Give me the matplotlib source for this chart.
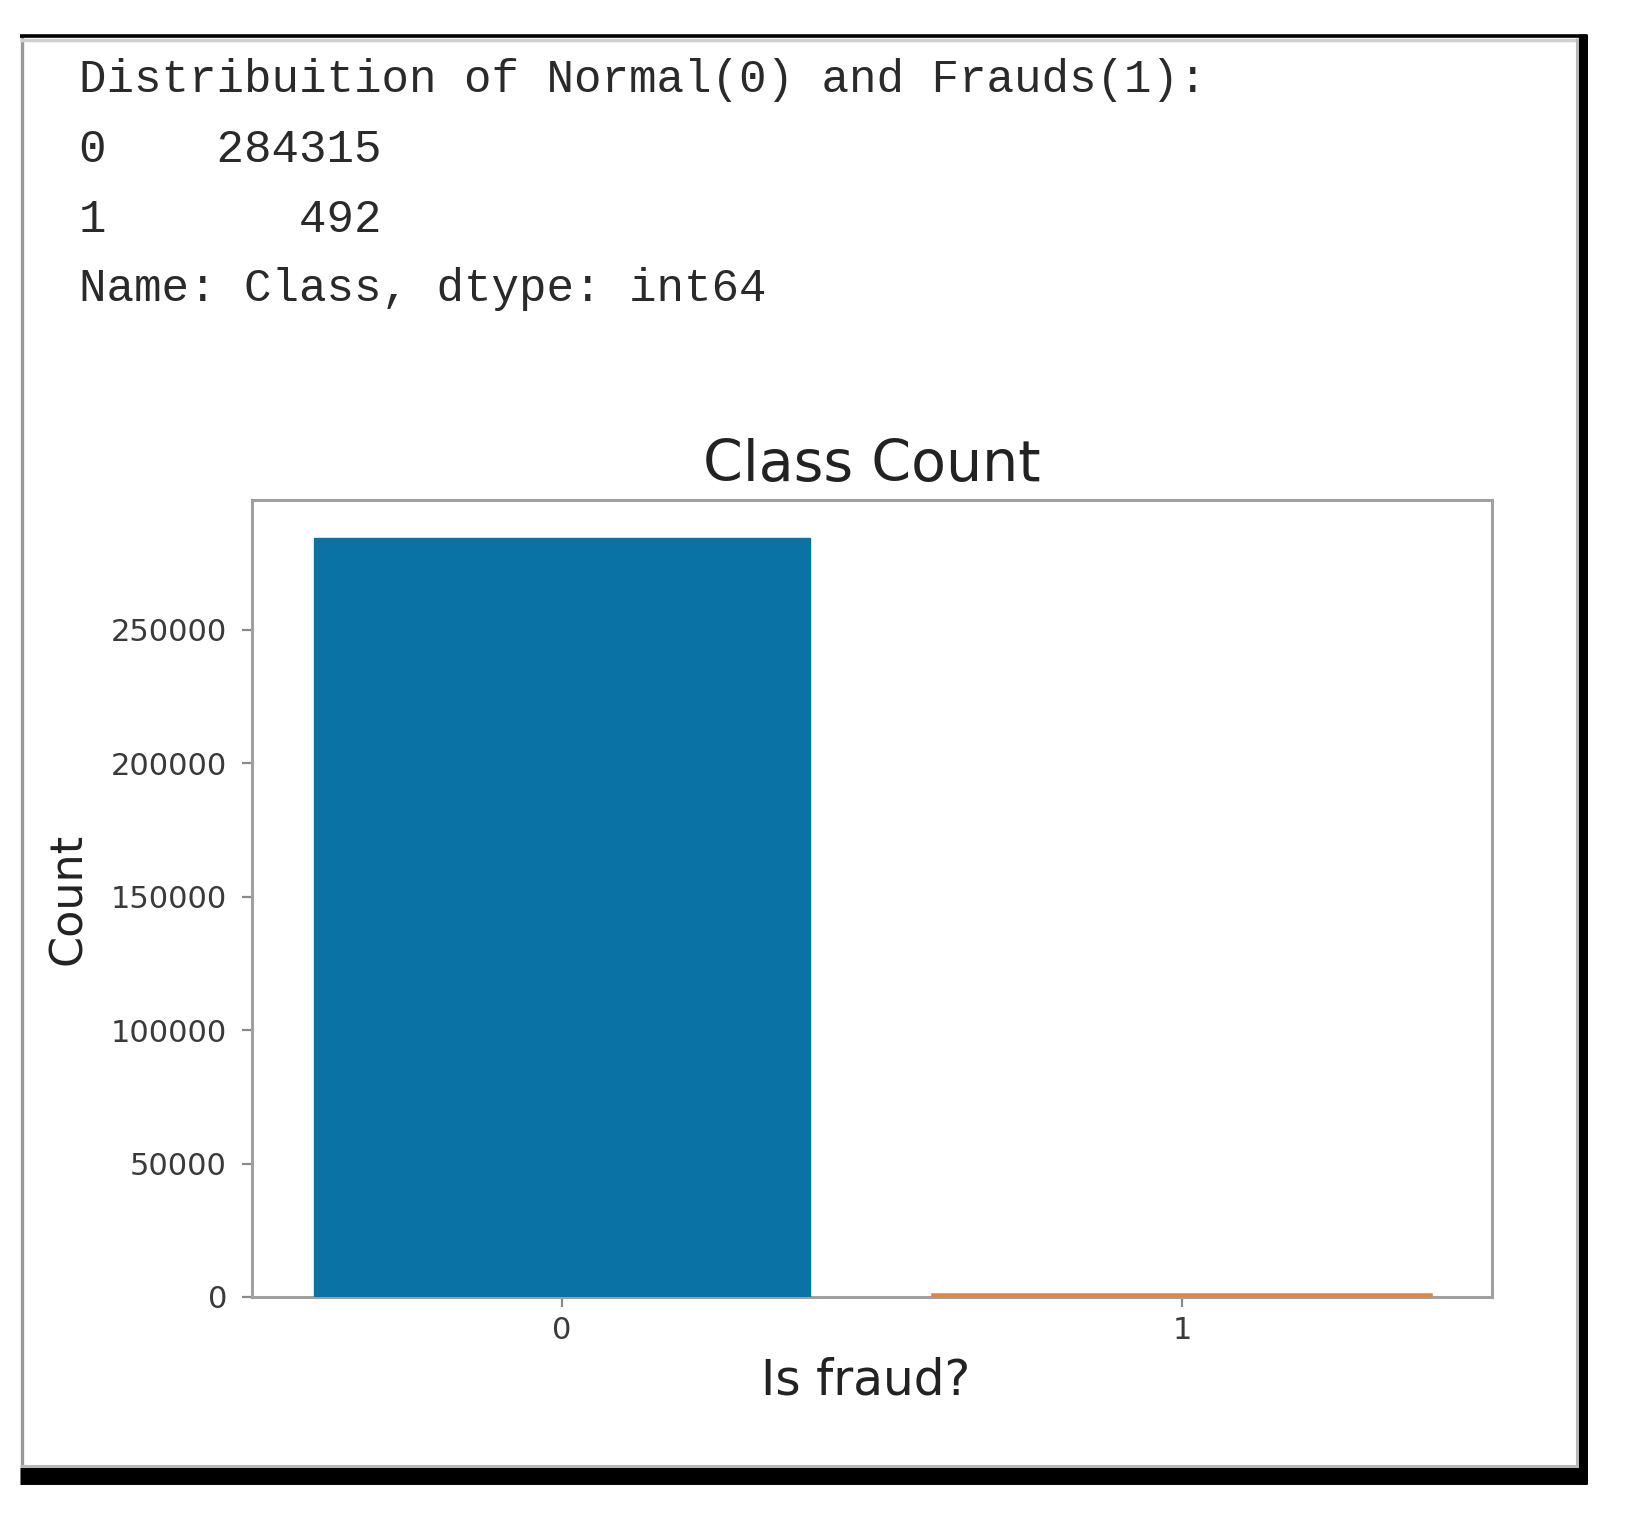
import matplotlib
matplotlib.use("Agg")
import matplotlib.pyplot as plt
from matplotlib.lines import Line2D

# value counts of the Class column
classes = ["0", "1"]
counts = [284315, 492]
bar_colors = ["#0a72a4", "#d8884c"]

W, H = 1625, 1529

def fx(px):
    return px / W

def fy(py):
    return 1 - py / H

fig = plt.figure(figsize=(W / 100, H / 100), dpi=100)
fig.patch.set_facecolor("white")

# printed output above the plot
mono = dict(family="Liberation Mono", fontsize=33, color="#2a2a2a", va="baseline")
fig.text(fx(79), fy(92), "Distribuition of Normal(0) and Frauds(1):", **mono)
fig.text(fx(79), fy(162), "%s    %d" % (classes[0], counts[0]), **mono)
fig.text(fx(79), fy(232), "%s    %6d" % (classes[1], counts[1]), **mono)
fig.text(fx(79), fy(301), "Name: Class, dtype: int64", **mono)

# the plot
ax = fig.add_axes([fx(252), fy(1297), (1492 - 252) / W, (1297 - 500) / H])
ax.bar(classes[0], counts[0], width=0.8, color=bar_colors[0], edgecolor=bar_colors[0],
       linewidth=1, zorder=3)
ax.bar(classes[1], counts[1], width=0.8, color=bar_colors[1], edgecolor=bar_colors[1],
       linewidth=4, zorder=3)
ax.set_xlim(-0.5, 1.5)
ax.set_ylim(0, max(counts) * 1.05)
ax.set_yticks([0, 50000, 100000, 150000, 200000, 250000])

for s in ax.spines.values():
    s.set_color("#a0a0a0")
    s.set_linewidth(2.2)
ax.tick_params(axis="both", length=7, width=1.6, color="#8a8a8a",
               labelsize=22, labelcolor="#3a3a3a")
ax.tick_params(axis="y", pad=11)
ax.tick_params(axis="x", pad=7)

ax.set_title("Class Count", fontsize=41, color="#222222", pad=14)
ax.set_xlabel("Is fraud?", fontsize=35, color="#222222")
ax.set_ylabel("Count", fontsize=32, color="#222222")
ax.xaxis.set_label_coords(0.495, -0.075)
ax.yaxis.set_label_coords(-0.131, 0.5)

# screenshot frame
def frame_line(xs, ys, color, lw):
    fig.add_artist(Line2D([fx(x) for x in xs], [fy(y) for y in ys],
                          transform=fig.transFigure, color=color,
                          linewidth=lw, solid_capstyle="butt"))

frame_line([22, 22], [35, 1484], "#9a9a9a", 2.4)
frame_line([20, 1576], [39.5, 39.5], "#d0d0d0", 2.5)
frame_line([1576.5, 1576.5], [38, 1467], "#b8b8b8", 2.2)
frame_line([20, 1578], [1465.5, 1465.5], "#b8b8b8", 2.2)
frame_line([20, 1587], [35.5, 35.5], "black", 2.6)
frame_line([1582.5, 1582.5], [34, 1484], "black", 6.5)
frame_line([20, 1587], [1475.5, 1475.5], "black", 12.2)

plt.savefig("out.png", dpi=100)
